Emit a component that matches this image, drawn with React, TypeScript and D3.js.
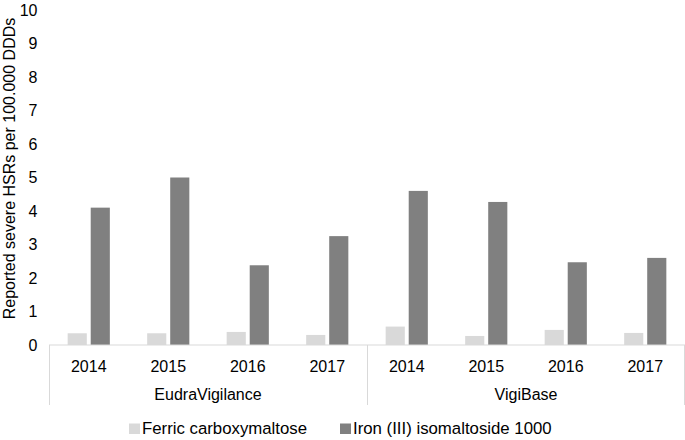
import React from 'react';
import * as d3 from 'd3';

const groups = ['EudraVigilance', 'VigiBase'];
const years = ['2014', '2015', '2016', '2017'];
const seriesNames = ['Ferric carboxymaltose', 'Iron (III) isomaltoside 1000'];
const ferric = [0.35, 0.35, 0.39, 0.3, 0.55, 0.27, 0.45, 0.36];
const iron = [4.1, 5.0, 2.38, 3.25, 4.6, 4.27, 2.47, 2.6];
const yTicks = [0, 1, 2, 3, 4, 5, 6, 7, 8, 9, 10];
const colors = ['#d9d9d9', '#808080'];

const W = 685;
const H = 440;
const font = 'Liberation Sans, Arial, sans-serif';

const App = () => {
  const cats = groups.flatMap(g => years.map(y => `${g}|${y}`));
  const x0 = d3.scaleBand().domain(cats).range([49, 685]);
  const x1 = d3.scaleBand().domain(seriesNames).range([0, x0.bandwidth()])
    .paddingInner(0.17).paddingOuter(0.81);
  const y = d3.scaleLinear().domain([0, 10]).range([345, 10]);
  const gx = d3.scaleBand().domain(groups).range([49, 685]);
  const vals = [ferric, iron];
  const legendX = [129, 340];

  return (
    <svg width={W} height={H} style={{ position: 'absolute', left: 0, top: 0 }}
      fontFamily={font}>
      <rect width={W} height={H} fill="#fff" />
      {yTicks.map(t => (
        <text key={t} x={37.5} y={y(t)} dy="0.35em" textAnchor="end" fontSize={16} fill="#000">{t}</text>
      ))}
      <text transform="translate(15,168.5) rotate(-90)" textAnchor="middle" fontSize={16} fill="#000">
        Reported severe HSRs per 100.000 DDDs
      </text>
      {seriesNames.map((s, si) => cats.map((c, ci) => (
        <rect key={s + c} x={x0(c)! + x1(s)!} width={x1.bandwidth()}
          y={y(vals[si][ci])} height={y(0) - y(vals[si][ci])} fill={colors[si]} />
      )))}
      <line x1={49} x2={685} y1={y(0)} y2={y(0)} stroke="#d9d9d9" />
      {groups.map(g => (
        <line key={g} x1={gx(g)! + 0.5} x2={gx(g)! + 0.5} y1={y(0)} y2={405} stroke="#d9d9d9" />
      ))}
      <line x1={684.5} x2={684.5} y1={y(0)} y2={405} stroke="#d9d9d9" />
      {cats.map(c => (
        <text key={c} x={x0(c)! + x0.bandwidth() / 2} y={372} textAnchor="middle" fontSize={16} fill="#000">
          {c.split('|')[1]}
        </text>
      ))}
      {groups.map(g => (
        <text key={g} x={gx(g)! + gx.bandwidth() / 2} y={400} textAnchor="middle" fontSize={16} fill="#000">{g}</text>
      ))}
      {seriesNames.map((s, i) => (
        <g key={s}>
          <rect x={legendX[i]} y={423.5} width={11} height={10.5} fill={colors[i]} />
          <text x={legendX[i] + 13} y={434} fontSize={16.8} fill="#000">{s}</text>
        </g>
      ))}
    </svg>
  );
};

export default App;
